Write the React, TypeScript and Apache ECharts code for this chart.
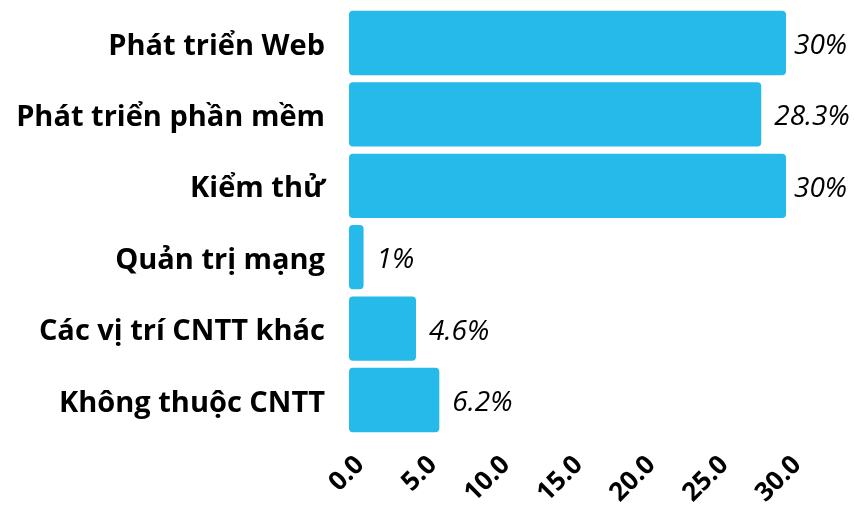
import React, { useEffect, useRef } from "react";
import * as echarts from "echarts";

const categories = [
  "Phát triển Web",
  "Phát triển phần mềm",
  "Kiểm thử",
  "Quản trị mạng",
  "Các vị trí CNTT khác",
  "Không thuộc CNTT",
];
const values = [30, 28.3, 30, 1, 4.6, 6.2];
const axisMax = 30;

export default function App() {
  const ref = useRef<HTMLDivElement>(null);
  useEffect(() => {
    if (!ref.current) return;
    const chart = echarts.init(ref.current, undefined, { renderer: "svg" });
    // labels at the chart's right edge are pulled in so they stay inside the page
    const seriesData = values.map((v) =>
      v >= axisMax ? { value: v, label: { distance: 8 } } : v
    );
    chart.setOption({
      animation: false,
      grid: { left: 349, right: 70, top: 7.3, bottom: 71.3, containLabel: false },
      xAxis: {
        type: "value",
        min: 0,
        max: axisMax,
        interval: 5,
        axisLine: { show: false },
        axisTick: { show: false },
        splitLine: { show: false },
        axisLabel: {
          rotate: 45,
          margin: 14,
          verticalAlign: "top",
          fontFamily: "Open Sans",
          fontWeight: "bold",
          fontSize: 26,
          color: "#000",
          formatter: (v: number) => v.toFixed(1),
        },
      },
      yAxis: {
        type: "category",
        inverse: true,
        data: categories,
        axisLine: { show: false },
        axisTick: { show: false },
        axisLabel: {
          margin: 24,
          fontFamily: "Open Sans",
          fontWeight: "bold",
          fontSize: 29,
          padding: [0, 0, 3, 0],
          color: "#000",
        },
      },
      series: [
        {
          type: "bar",
          data: seriesData,
          barCategoryGap: "10%",
          itemStyle: { color: "#25BAEA", borderRadius: 4 },
          label: {
            show: true,
            position: "right",
            distance: 13,
            fontFamily: "Open Sans",
            fontStyle: "italic",
            fontSize: 28,
            color: "#000",
            formatter: (p: any) => p.value + "%",
          },
        },
      ],
    });
    return () => chart.dispose();
  }, []);
  return (
    <div
      ref={ref}
      style={{ position: "fixed", left: 0, top: 0, width: 856, height: 507 }}
    />
  );
}
